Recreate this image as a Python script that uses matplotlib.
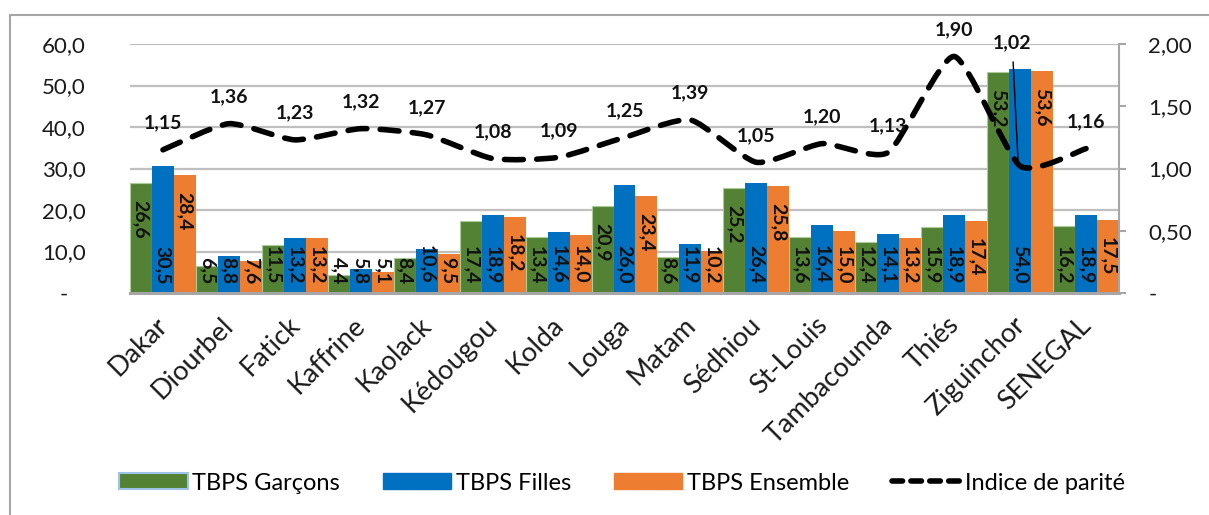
import matplotlib
matplotlib.use("Agg")
import matplotlib.pyplot as plt
import matplotlib.transforms as mtransforms
import numpy as np
from matplotlib.path import Path
from matplotlib.patches import PathPatch, Rectangle
from matplotlib.lines import Line2D
from matplotlib.patches import Patch

regions = ["Dakar", "Diourbel", "Fatick", "Kaffrine", "Kaolack", "Kédougou", "Kolda",
           "Louga", "Matam", "Sédhiou", "St-Louis", "Tambacounda", "Thiés", "Ziguinchor", "SENEGAL"]
garcons = [26.6, 6.5, 11.5, 4.4, 8.4, 17.4, 13.4, 20.9, 8.6, 25.2, 13.6, 12.4, 15.9, 53.2, 16.2]
filles = [30.5, 8.8, 13.2, 5.8, 10.6, 18.9, 14.6, 26.0, 11.9, 26.4, 16.4, 14.1, 18.9, 54.0, 18.9]
ensemble = [28.4, 7.6, 13.2, 5.1, 9.5, 18.2, 14.0, 23.4, 10.2, 25.8, 15.0, 13.2, 17.4, 53.6, 17.5]
parite = [1.15, 1.36, 1.23, 1.32, 1.27, 1.08, 1.09, 1.25, 1.39, 1.05, 1.20, 1.13, 1.90, 1.02, 1.16]
left_ticks = [0, 10, 20, 30, 40, 50, 60]
left_labels = ["-   ", "10,0", "20,0", "30,0", "40,0", "50,0", "60,0"]
right_ticks = [0, 0.5, 1.0, 1.5, 2.0]
right_labels = ["-", "0,50", "1,00", "1,50", "2,00"]
series_names = ["TBPS Garçons", "TBPS Filles", "TBPS Ensemble", "Indice de parité"]

GREEN = "#548235"
BLUE = "#0070C0"
ORANGE = "#ED7D31"
FONT = "Lato"
plt.rcParams['font.family'] = [FONT, 'DejaVu Sans']

W, H = 1209, 515
fig = plt.figure(figsize=(W / 100, H / 100), dpi=100)
ax = fig.add_axes([130 / W, 1 - 293 / H, (1119 - 130) / W, (293 - 44) / H])
ax2 = ax.twinx()

# figure border
fig.patches.append(Rectangle((10 / W, -0.02), 1.05, 1 - 15 / H + 0.02, transform=fig.transFigure,
                             fill=False, edgecolor="#A6A6A6", linewidth=1.5, zorder=-10))

n = len(regions)
x = np.arange(n)
bw = 1 / 3
colors = [GREEN, BLUE, ORANGE]
data = [garcons, filles, ensemble]
edges = ["#A9CD95", BLUE, ORANGE]
top_min = [19.0, 1e9, 15.7]
for k, (vals, col) in enumerate(zip(data, colors)):
    xs = x + (k - 1) * bw
    ax.bar(xs, vals, width=bw, color=col, edgecolor=edges[k], linewidth=0.8 if k == 0 else 0,
           zorder=2)
    for xi, v in zip(xs, vals):
        txt = f"{v:.1f}".replace(".", ",")
        if v >= top_min[k]:
            ax.annotate(txt, xy=(xi, v), xytext=(0, -17), textcoords="offset pixels",
                        rotation=270, ha="center", va="top", fontsize=14, fontweight="bold",
                        color="#111111", zorder=5)
        else:
            ax.annotate(txt, xy=(xi, 0), xytext=(0, 9), textcoords="offset pixels",
                        rotation=270, ha="center", va="bottom", fontsize=14, fontweight="bold",
                        color="#111111", zorder=5)

ax.set_xlim(-0.5, n - 0.5)
ax.set_ylim(0, 60)
ax2.set_ylim(0, 2)
ax.set_yticks(left_ticks)
ax.set_yticklabels(left_labels)
ax.grid(axis="y", color="#BFBFBF", linewidth=1.6, zorder=0)
ax.set_axisbelow(True)
ax.tick_params(axis="y", length=0, pad=32, labelsize=16, labelcolor="#1a1a1a")
ax.set_xticks(x)
ax.set_xticklabels(regions, rotation=45, ha="right", rotation_mode="anchor", fontsize=19.5,
                   color="#1a1a1a")
ax.tick_params(axis="x", length=0, pad=14)
shift = mtransforms.ScaledTranslation(-8 / 100, 0, fig.dpi_scale_trans)
for lab in ax.get_xticklabels():
    lab.set_transform(lab.get_transform() + shift)
for s in ["left", "top", "right"]:
    ax.spines[s].set_visible(False)
ax.spines["bottom"].set_color("#A6A6A6")
ax.spines["bottom"].set_linewidth(2.2)
ax.spines["bottom"].set_zorder(4)

ax2.set_yticks(right_ticks)
ax2.set_yticklabels(right_labels)
ax2.tick_params(axis="y", length=5, width=1.5, color="#A6A6A6", pad=16, labelsize=16,
                labelcolor="#1a1a1a")
for s in ["left", "top", "bottom"]:
    ax2.spines[s].set_visible(False)
ax2.spines["right"].set_color("#A6A6A6")
ax2.spines["right"].set_linewidth(1.5)

# smoothed dashed line (mildly rounded Bezier through the points)
P = np.column_stack([x, parite]).astype(float)
verts = [P[0]]
codes = [Path.MOVETO]
t = 10.0
for i in range(n - 1):
    p0 = P[i - 1] if i > 0 else P[i]
    p1, p2 = P[i], P[i + 1]
    p3 = P[i + 2] if i + 2 < n else P[i + 1]
    c1 = p1 + (p2 - p0) / t
    c2 = p2 - (p3 - p1) / t
    verts += [c1, c2, p2]
    codes += [Path.CURVE4] * 3
patch = PathPatch(Path(verts, codes), fill=False, edgecolor="black", linewidth=4.0,
                  linestyle=(0, (3.4, 2.4)), capstyle="round", zorder=6)
ax2.add_patch(patch)

for i, v in enumerate(parite):
    txt = f"{v:.2f}".replace(".", ",")
    if regions[i] == "Ziguinchor":
        ax2.annotate(txt, xy=(i - 0.03, v + 0.03), xytext=(-6, 120), textcoords="offset pixels",
                     ha="center", va="center", fontsize=14, fontweight="bold", color="#111111",
                     arrowprops=dict(arrowstyle="-", color="black", lw=1.0, shrinkA=6, shrinkB=0),
                     zorder=7)
    else:
        ax2.annotate(txt, xy=(i, v), xytext=(0, 27), textcoords="offset pixels",
                     ha="center", va="center", fontsize=14, fontweight="bold", color="#111111",
                     zorder=7)

handles = [Patch(facecolor=GREEN, edgecolor="#9DC3E6", linewidth=1.5),
           Patch(facecolor=BLUE, edgecolor=BLUE),
           Patch(facecolor=ORANGE, edgecolor=ORANGE),
           Line2D([0], [0], color="black", linewidth=4.0, linestyle=(0, (1.9, 1.5)),
                  dash_capstyle="round")]
fig.legend(handles, series_names, loc="center", bbox_to_anchor=(622 / W, 1 - 483 / H), ncol=4,
           frameon=False, fontsize=17, handlelength=2.9, handleheight=0.65, handletextpad=0.2,
           columnspacing=1.8, borderaxespad=0)

fig.savefig("out.png", dpi=100)
